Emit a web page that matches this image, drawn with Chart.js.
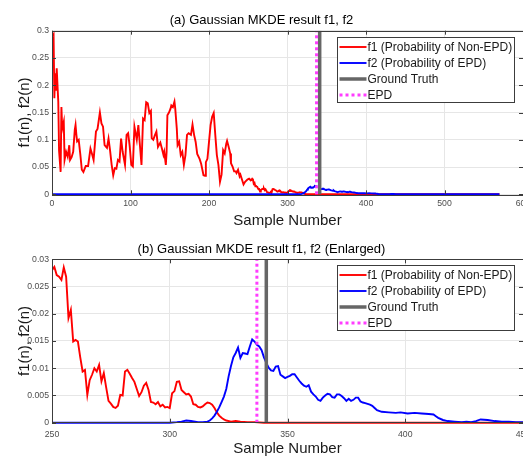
<!DOCTYPE html>
<html>
<head>
<meta charset="utf-8">
<script src="https://cdn.jsdelivr.net/npm/chart.js@4.4.1/dist/chart.umd.min.js"></script>
<style>
  html, body { margin: 0; padding: 0; background: #fff; overflow: hidden; }
  .box { position: absolute; left: 0; width: 575px; height: 228px; }
</style>
</head>
<body>
<div class="box" style="top:0"><canvas id="chart-a"></canvas></div>
<div class="box" style="top:228px"><canvas id="chart-b"></canvas></div>
<script>
// f1: probability of non-EPD
const f1N = [1, 2, 3, 4, 5, 6, 7, 8, 9, 11, 12, 13, 15, 16, 18, 20, 22, 23, 25, 27, 29, 30, 31, 32, 34, 36, 38, 40,
  43, 46, 49, 51, 53, 56, 58, 61, 63, 65, 67, 70, 72, 74, 76, 78, 80, 82, 84, 86, 88, 90, 93, 95, 97, 99, 101, 103,
  105, 108, 110, 112, 114, 116, 118, 120, 122, 124, 126, 127, 129, 131, 133, 135, 138, 140, 142, 143, 145, 146, 147,
  149, 151, 152, 154, 156, 157, 159, 160, 162, 164, 166, 168, 170, 172, 174, 177, 179, 181, 183, 185, 188, 190, 193,
  195, 196, 198, 200, 202, 204, 206, 208, 210, 212, 214, 216, 218, 220, 222, 223, 225, 227, 228, 230, 232, 234, 235,
  237, 239, 240, 242, 244, 246, 249,
  250, 251, 252, 253, 254, 255, 256, 257, 258, 259, 260, 261, 262, 263, 264, 265, 266, 267, 268, 269, 270, 271, 272,
  273, 274, 275, 276, 277, 278, 279, 280, 281, 282, 283, 284, 285, 286, 287, 288, 289, 290, 291, 292, 293, 294, 295,
  296, 297, 298, 299, 300, 301, 302, 303, 304, 305, 306, 307, 308, 309, 310, 311, 312, 313, 314, 315, 316, 317, 318,
  319, 320, 321, 322, 323, 324, 326, 328, 330, 333, 336, 340, 570];
const f1Val = [0.29, 0.293, 0.176, 0.222, 0.19, 0.231, 0.2, 0.17, 0.08, 0.041, 0.16, 0.12, 0.133, 0.063, 0.078, 0.069,
  0.09, 0.063, 0.068, 0.078, 0.118, 0.127, 0.11, 0.097, 0.1, 0.074, 0.045, 0.041,
  0.052, 0.052, 0.084, 0.074, 0.063, 0.115, 0.12, 0.15, 0.13, 0.124, 0.09, 0.085, 0.102, 0.08, 0.054, 0.035, 0.048,
  0.047, 0.063, 0.06, 0.102, 0.078, 0.054, 0.109, 0.112, 0.088, 0.054, 0.051,
  0.124, 0.1, 0.127, 0.09, 0.054, 0.139, 0.136, 0.169, 0.167, 0.149, 0.153, 0.103, 0.1, 0.108, 0.115, 0.087, 0.095,
  0.084, 0.072, 0.078, 0.054, 0.078, 0.145,
  0.15, 0.157, 0.163, 0.16, 0.17, 0.157, 0.12, 0.09, 0.096, 0.072, 0.078, 0.054, 0.072, 0.109, 0.112, 0.109, 0.128,
  0.109, 0.096, 0.074, 0.065, 0.056, 0.035,
  0.034, 0.059, 0.065, 0.096, 0.127, 0.142, 0.149, 0.109, 0.072, 0.054, 0.023, 0.036, 0.081, 0.075, 0.093, 0.098,
  0.087, 0.075, 0.057, 0.051, 0.042, 0.042, 0.039,
  0.045, 0.033, 0.036, 0.027, 0.018, 0.023, 0.027,
  0.028, 0.0286, 0.0271, 0.0268, 0.0262, 0.0285, 0.0268, 0.0192, 0.0207, 0.0149, 0.0152, 0.0149, 0.012, 0.0094,
  0.0097, 0.0051, 0.0078, 0.0088, 0.01, 0.0094, 0.0106, 0.0076, 0.0091,
  0.0065, 0.004, 0.0035, 0.0029, 0.0027, 0.0031, 0.0051, 0.005, 0.0094, 0.0097, 0.009, 0.0082, 0.0075, 0.0062,
  0.0049, 0.0056, 0.0068, 0.0073, 0.006, 0.0038, 0.0037, 0.0034, 0.0038,
  0.003, 0.0033, 0.0028, 0.0029, 0.0027, 0.0054, 0.0058, 0.0075, 0.0076, 0.006, 0.0056, 0.0052, 0.0053, 0.0048,
  0.0034, 0.0033, 0.0029, 0.0028, 0.003, 0.0034, 0.0037, 0.0036, 0.0033,
  0.0027, 0.0019, 0.0013, 0.0009, 0.0006, 0.0004, 0.0002, 0.0003, 0.0002, 0.0001, 0.0001, 0, 0];

// f2: probability of EPD
const f2N = [1, 300, 303, 305, 307, 309, 312, 314, 316, 317, 318, 319, 320, 321, 322, 323, 324, 325, 326, 327, 328,
  329, 330, 331, 332, 333, 334, 335, 336, 337, 338, 339, 340, 341, 342, 343, 344, 345, 346, 347, 348, 349, 350, 351,
  352, 353, 354, 355, 356, 357, 358, 359, 360, 361, 362, 363, 364, 365, 366, 367, 368, 369, 370, 371, 372, 373, 374,
  375, 376, 377, 378, 379, 380, 381, 382, 383, 385, 386, 387, 388, 390, 393, 396, 398, 401, 404, 407, 410, 412, 413,
  414, 416, 418, 421, 424, 426, 428, 430, 432, 435, 438, 441, 444, 447, 450, 455, 570];
const f2Val = [0, 0, 0.0001, 0.0002, 0.0004, 0.0003, 0.0001, 0.0001, 0.0002, 0.0004, 0.0008, 0.0013, 0.002, 0.0028,
  0.0038, 0.0048, 0.0062, 0.0085, 0.0104, 0.012, 0.0128,
  0.0138, 0.0119, 0.0128, 0.0127, 0.0126, 0.014, 0.0153, 0.0149, 0.0143, 0.014, 0.0133, 0.012, 0.011, 0.0101, 0.0096,
  0.0095, 0.0103, 0.0104, 0.0088, 0.0085, 0.0082, 0.0084, 0.0086,
  0.0089, 0.0089, 0.0083, 0.0077, 0.0072, 0.0068, 0.0066, 0.0069, 0.0057, 0.0052, 0.0048, 0.0042, 0.004, 0.0046,
  0.005, 0.0053, 0.0052, 0.0047, 0.0046, 0.0052, 0.0052, 0.0049, 0.0045,
  0.004, 0.0044, 0.004, 0.0042, 0.0046, 0.0046, 0.0039, 0.0037, 0.0036, 0.0033, 0.0031, 0.0027, 0.0023, 0.002,
  0.0019, 0.0018, 0.0019, 0.0017, 0.0018, 0.0017, 0.0016, 0.0015, 0.0012,
  0.0009, 0.0005, 0.0003, 0.0002, 0.0001, 0.0002, 0.0001, 0.0003, 0.0006, 0.0005, 0.0003, 0.0002, 0.0002, 0.0001,
  0.0001, 0, 0];

const groundTruth = 341;
const epd = 337;

const legendLabels = ['f1 (Probability of Non-EPD)', 'f2 (Probability of EPD)', 'Ground Truth', 'EPD'];

const FONT = "'Liberation Sans', Arial, Helvetica, sans-serif";

function points(xs, ys) {
  return xs.map((x, i) => ({ x: x, y: ys[i] }));
}

function fmt(v) {
  return String(Number(v.toFixed(4)));
}

// box, inner tick marks and the in-axes legend, MATLAB style
const axesDecor = {
  id: 'axesDecor',
  afterDatasetsDraw(chart) {
    const { ctx, chartArea: a, scales } = chart;
    ctx.save();
    ctx.strokeStyle = '#3c3c3c';
    ctx.lineWidth = 1;
    ctx.beginPath();
    scales.x.ticks.forEach(t => {
      const px = Math.round(scales.x.getPixelForValue(t.value)) + 0.5;
      ctx.moveTo(px, a.bottom); ctx.lineTo(px, a.bottom - 4);
      ctx.moveTo(px, a.top); ctx.lineTo(px, a.top + 4);
    });
    scales.y.ticks.forEach(t => {
      const py = Math.round(scales.y.getPixelForValue(t.value)) + 0.5;
      ctx.moveTo(a.left, py); ctx.lineTo(a.left + 4, py);
      ctx.moveTo(a.right, py); ctx.lineTo(a.right - 4, py);
    });
    ctx.stroke();
    ctx.strokeRect(Math.round(a.left) + 0.5, Math.round(a.top) + 0.5,
      Math.round(a.right - a.left), Math.round(a.bottom - a.top));

    // legend
    const bx = Math.round(a.left + 285) + 0.5;
    const by = Math.round(a.top + 6) + 0.5;
    ctx.fillStyle = '#fff';
    ctx.fillRect(bx, by, 177, 65);
    ctx.strokeStyle = '#3c3c3c';
    ctx.strokeRect(bx, by, 177, 65);
    ctx.font = '12px ' + FONT;
    ctx.textBaseline = 'middle';
    chart.data.datasets.forEach((ds, i) => {
      const ry = by + 9.5 + i * 16;
      ctx.beginPath();
      ctx.strokeStyle = ds.borderColor;
      ctx.lineWidth = ds.borderWidth;
      ctx.setLineDash(ds.borderDash || []);
      ctx.moveTo(bx + 2, ry);
      ctx.lineTo(bx + 29, ry);
      ctx.stroke();
      ctx.setLineDash([]);
      ctx.fillStyle = '#1a1a1a';
      ctx.fillText(legendLabels[i], bx + 30, ry + 0.5);
    });
    ctx.restore();
  }
};

function makeChart(id, cfg) {
  return new Chart(document.getElementById(id), {
    type: 'line',
    data: {
      datasets: [
        { data: points(f1N, f1Val), borderColor: '#ff0000', borderWidth: 1.9, order: 4 },
        { data: points(f2N, f2Val), borderColor: '#0000ff', borderWidth: 1.9, order: 3 },
        { data: [{ x: groundTruth, y: 0 }, { x: groundTruth, y: cfg.yMax }], borderColor: '#666666', borderWidth: 3.5, order: 2 },
        { data: [{ x: epd, y: 0 }, { x: epd, y: cfg.yMax }], borderColor: '#ff3dff', borderWidth: 3, borderDash: [3, 3], order: 1 },
      ]
    },
    options: {
      responsive: true,
      maintainAspectRatio: false,
      animation: false,
      devicePixelRatio: 1,
      layout: { padding: { left: 0, right: 52, top: 0, bottom: 0 } },
      datasets: { line: { pointRadius: 0, tension: 0, clip: { left: cfg.clipLeft, top: 0, right: 0, bottom: 2 } } },
      plugins: {
        legend: { display: false },
        tooltip: { enabled: false },
        title: {
          display: true,
          text: cfg.title,
          color: '#000',
          font: { family: FONT, size: 13, weight: 'normal', lineHeight: 1.2 },
          padding: cfg.titlePad,
        },
      },
      scales: {
        x: {
          type: 'linear',
          min: cfg.xMin, max: cfg.xMax,
          ticks: { stepSize: cfg.xStep, padding: cfg.xTickPad, color: '#4d4d4d', maxRotation: 0,
            font: { family: FONT, size: 8.7 }, callback: v => String(v) },
          grid: { color: '#e6e6e6', drawTicks: false },
          border: { display: false },
          title: { display: true, text: 'Sample Number', color: '#1a1a1a',
            font: { family: FONT, size: 15, lineHeight: 1 }, padding: { top: 0, bottom: 0 } },
          afterFit: s => { s.height = cfg.xHeight; },
        },
        y: {
          min: 0, max: cfg.yMax,
          ticks: { stepSize: cfg.yStep, padding: 3, color: '#4d4d4d',
            font: { family: FONT, size: 8.7 }, callback: v => fmt(v) },
          grid: { color: '#e6e6e6', drawTicks: false },
          border: { display: false },
          title: { display: true, text: 'f1(n), f2(n)', color: '#1a1a1a',
            font: { family: FONT, size: 15, lineHeight: 1 }, padding: { top: 17, bottom: 0 } },
          afterFit: s => { s.width = 52; },
        }
      }
    },
    plugins: [axesDecor]
  });
}

makeChart('chart-a', {
  title: '(a) Gaussian MKDE result f1, f2',
  titlePad: { top: 12.2, bottom: 2.9 },
  xMin: 0, xMax: 600, xStep: 100, xTickPad: 4.5, xHeight: 33.7,
  yMax: 0.3, yStep: 0.05, clipLeft: 2,
});

makeChart('chart-b', {
  title: '(b) Gaussian MKDE result f1, f2 (Enlarged)',
  titlePad: { top: 13.4, bottom: 2.3 },
  xMin: 250, xMax: 450, xStep: 50, xTickPad: 6.5, xHeight: 33.3,
  yMax: 0.03, yStep: 0.005, clipLeft: 0,
});
</script>
</body>
</html>
